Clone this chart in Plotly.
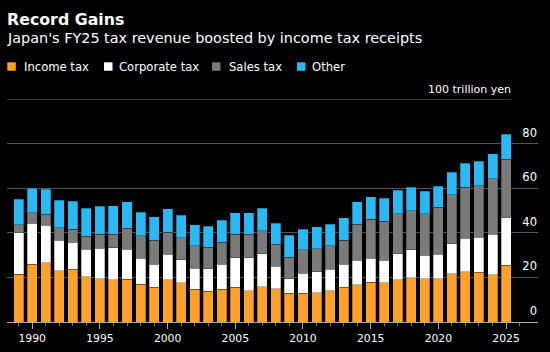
import plotly.graph_objects as go

years = list(range(1989, 2026))
income_tax = [21.4, 26.0, 26.6, 23.0, 23.6, 20.4, 19.5, 19.0, 19.2, 17.0,
              15.5, 18.9, 17.7, 14.7, 13.7, 14.6, 15.5, 14.0, 15.8, 15.0,
              12.8, 12.8, 13.2, 14.0, 15.5, 16.7, 17.8, 17.5, 19.0, 19.8,
              19.3, 19.3, 21.7, 22.5, 22.2, 21.3, 25.4]
corporate_tax = [18.7, 18.3, 16.7, 13.7, 12.2, 12.3, 13.5, 14.3, 13.4, 11.6,
                 10.5, 11.4, 10.3, 9.4, 10.1, 11.3, 13.3, 14.8, 14.8, 10.0,
                 6.5, 9.1, 9.4, 9.6, 10.5, 11.0, 10.8, 10.3, 11.6, 12.5,
                 10.6, 11.0, 13.4, 15.0, 15.7, 18.0, 21.3]
sales_tax = [3.5, 4.8, 5.0, 5.5, 5.7, 5.8, 6.3, 6.1, 9.5, 10.1,
             10.7, 10.0, 9.8, 10.0, 9.8, 9.9, 10.6, 10.6, 10.4, 9.9,
             9.8, 10.4, 10.3, 10.5, 10.7, 16.2, 17.5, 17.4, 17.9, 17.5,
             18.6, 21.2, 21.9, 23.0, 23.2, 24.9, 26.2]
other = [11.4, 10.8, 11.3, 12.4, 12.6, 12.5, 12.7, 12.8, 11.9, 10.5,
         10.4, 10.4, 10.1, 9.6, 9.4, 9.9, 9.5, 9.5, 10.0, 9.3,
         9.7, 9.2, 9.8, 9.8, 10.1, 10.1, 10.0, 10.4, 10.5, 10.6,
         10.1, 9.3, 10.1, 10.7, 11.0, 11.3, 11.3]

series_names = ["Income tax", "Corporate tax", "Sales tax", "Other"]
series_values = [income_tax, corporate_tax, sales_tax, other]
series_colors = ["#FFA12B", "#FFFFFF", "#7A7A7A", "#2BB9F5"]

y_tickvals = [0, 20, 40, 60, 80]
x_tickvals = [1990, 1995, 2000, 2005, 2010, 2015, 2020, 2025]

W, H = 550, 352
ML, MR, MT, MB = 7, 12, 99, 28
PW = W - ML - MR
PH = H - MT - MB


def px(x):
    return (x - ML) / PW


def py(y):
    return (H - MB - y) / PH


fig = go.Figure()
for name, vals, col in zip(series_names, series_values, series_colors):
    fig.add_trace(go.Bar(
        x=years, y=vals, name=name, marker_color=col,
        marker_line=dict(width=0.8, color="rgba(0,0,0,0.35)"),
        showlegend=False,
    ))

FONT = "DejaVu Sans"
annotations = [
    dict(text="<b>Record Gains</b>", x=px(5), y=py(18.5), xref="paper", yref="paper",
         xanchor="left", yanchor="middle", showarrow=False,
         font=dict(family=FONT, size=15.8, color="#FFFFFF")),
    dict(text="Japan's FY25 tax revenue boosted by income tax receipts", x=px(5), y=py(37),
         xref="paper", yref="paper", xanchor="left", yanchor="middle", showarrow=False,
         font=dict(family=FONT, size=14.4, color="#FFFFFF")),
    dict(text="100 trillion yen", x=px(513), y=py(89), xref="paper", yref="paper",
         xanchor="right", yanchor="middle", showarrow=False,
         font=dict(family=FONT, size=11, color="#FFFFFF")),
]
shapes = [
    dict(type="line", xref="paper", yref="y", x0=0, x1=px(511), y0=100, y1=100,
         line=dict(color="#666666", width=1)),
]

sq_x = [7.3, 104, 212, 297]
txt_x = [24, 119, 229, 312]
for name, col, sx, tx in zip(series_names, series_colors, sq_x, txt_x):
    shapes.append(dict(type="rect", xref="paper", yref="paper",
                       x0=px(sx), x1=px(sx + 8.5), y0=py(70.5), y1=py(62),
                       fillcolor=col, line=dict(width=0)))
    annotations.append(dict(text=name, x=px(tx - 2), y=py(66.5), xref="paper", yref="paper",
                            xanchor="left", yanchor="middle", showarrow=False,
                            font=dict(family=FONT, size=11.6, color="#FFFFFF")))

fig.update_layout(
    width=W, height=H,
    margin=dict(l=ML, r=MR, t=MT, b=MB),
    paper_bgcolor="#000000", plot_bgcolor="#000000",
    barmode="stack", bargap=0.26,
    font=dict(family=FONT, color="#FFFFFF"),
    annotations=annotations, shapes=shapes,
    xaxis=dict(
        range=[1988.136, 2027.36], tickvals=x_tickvals, ticks="outside", ticklen=6,
        tickcolor="#AAAAAA", tickwidth=1,
        minor=dict(dtick=1, tick0=1989, ticks="outside", ticklen=3, tickcolor="#777777"),
        showline=True, linecolor="#AAAAAA", linewidth=1, showgrid=False, zeroline=False,
        tickfont=dict(family=FONT, size=10.8, color="#FFFFFF"),
    ),
    yaxis=dict(
        range=[0, 100], tickvals=y_tickvals, side="right", ticklabelposition="inside",
        ticklabelshift=-11, ticklabelstandoff=-2,
        showgrid=True, gridcolor="#555555", gridwidth=1, zeroline=False, showline=False,
        tickfont=dict(family=FONT, size=11.5, color="#FFFFFF"),
    ),
)

fig.write_html("out.html")
